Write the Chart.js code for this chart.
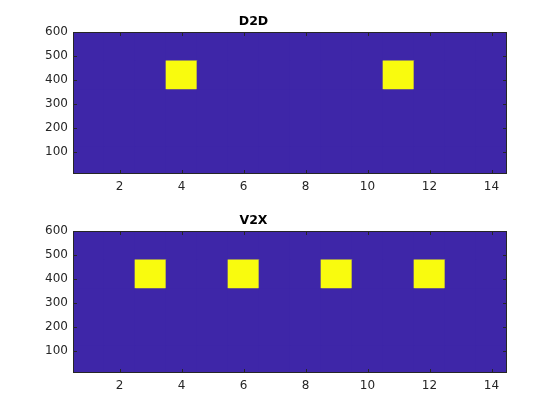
<!DOCTYPE html>
<html>
<head>
<meta charset="utf-8">
<script src="https://cdn.jsdelivr.net/npm/chart.js@4"></script>
<style>
  body { margin: 0; background: #fff; width: 560px; height: 420px; overflow: hidden; }
  canvas { position: absolute; left: 0; }
  #d2d { top: 0; }
  #v2x { top: 199px; }
</style>
</head>
<body>
<canvas id="d2d" width="560" height="200"></canvas>
<canvas id="v2x" width="560" height="200"></canvas>
<script>
// kolom 1..14, baris (batas y) 5 baris
const columns = [1, 2, 3, 4, 5, 6, 7, 8, 9, 10, 11, 12, 13, 14];
const rowEdges = [0, 120, 240, 360, 480, 600];
const xTickValues = [2, 4, 6, 8, 10, 12, 14];
const yTickValues = [100, 200, 300, 400, 500, 600];

// nilai sel, baris dari bawah ke atas
const d2dCells = [
  [0, 0, 0, 0, 0, 0, 0, 0, 0, 0, 0, 0, 0, 0],
  [0, 0, 0, 0, 0, 0, 0, 0, 0, 0, 0, 0, 0, 0],
  [0, 0, 0, 0, 0, 0, 0, 0, 0, 0, 0, 0, 0, 0],
  [0, 0, 0, 1, 0, 0, 0, 0, 0, 0, 1, 0, 0, 0],
  [0, 0, 0, 0, 0, 0, 0, 0, 0, 0, 0, 0, 0, 0]
];
const v2xCells = [
  [0, 0, 0, 0, 0, 0, 0, 0, 0, 0, 0, 0, 0, 0],
  [0, 0, 0, 0, 0, 0, 0, 0, 0, 0, 0, 0, 0, 0],
  [0, 0, 0, 0, 0, 0, 0, 0, 0, 0, 0, 0, 0, 0],
  [0, 0, 1, 0, 0, 1, 0, 0, 1, 0, 0, 1, 0, 0],
  [0, 0, 0, 0, 0, 0, 0, 0, 0, 0, 0, 0, 0, 0]
];

const lowColor = "#3e26a8";
const highColor = "#f9fb0e";
const axisColor = "#262626";

// kotak sumbu + tick ke dalam ala MATLAB
const boxPlugin = {
  id: "box",
  beforeDatasetsDraw(chart) {
    const a = chart.chartArea, ctx = chart.ctx;
    ctx.save();
    ctx.fillStyle = lowColor;
    ctx.fillRect(a.left, a.top, a.right - a.left, a.bottom - a.top);
    ctx.restore();
  },
  afterDraw(chart) {
    const a = chart.chartArea, ctx = chart.ctx;
    const len = 4;
    ctx.save();
    ctx.strokeStyle = axisColor;
    ctx.lineWidth = 1;
    ctx.beginPath();
    chart.scales.x.ticks.forEach(t => {
      const px = Math.round(chart.scales.x.getPixelForValue(t.value)) + 0.5;
      ctx.moveTo(px, a.bottom); ctx.lineTo(px, a.bottom - len);
      ctx.moveTo(px, a.top); ctx.lineTo(px, a.top + len);
    });
    chart.scales.y.ticks.forEach(t => {
      const py = Math.round(chart.scales.y.getPixelForValue(t.value)) + 0.5;
      ctx.moveTo(a.left, py); ctx.lineTo(a.left + len, py);
      ctx.moveTo(a.right, py); ctx.lineTo(a.right - len, py);
    });
    ctx.stroke();
    ctx.strokeRect(Math.round(a.left) + 0.5, Math.round(a.top) + 0.5,
      Math.round(a.right - a.left) - 1, Math.round(a.bottom - a.top) - 1);
    ctx.restore();
  }
};

function makeDatasets(cells) {
  return cells.map((row, r) => ({
    data: columns.map(c => ({ x: c, y: [rowEdges[r], rowEdges[r + 1]] })),
    backgroundColor: row.map(v => v ? highColor : lowColor),
    borderWidth: 0,
    barPercentage: 1,
    categoryPercentage: 1,
    grouped: false
  }));
}

function makeChart(id, title, cells) {
  return new Chart(document.getElementById(id), {
    type: "bar",
    data: { datasets: makeDatasets(cells) },
    options: {
      responsive: false,
      animation: false,
      devicePixelRatio: 1,
      layout: { padding: { left: 0, right: 53, top: 0, bottom: 0 } },
      plugins: {
        legend: { display: false },
        tooltip: { enabled: false },
        title: {
          display: true,
          text: title,
          color: "#000",
          font: { family: "DejaVu Sans", size: 12.5, weight: "bold" },
          padding: { top: 14, bottom: 3 }
        }
      },
      scales: {
        x: {
          type: "linear",
          offset: false,
          min: 0.5,
          max: 14.5,
          afterBuildTicks: s => { s.ticks = xTickValues.map(v => ({ value: v })); },
          afterFit: s => { s.height = 26; },
          grid: { display: false, drawTicks: false },
          border: { display: false },
          ticks: { color: axisColor, padding: 6, font: { family: "DejaVu Sans", size: 12 } }
        },
        y: {
          type: "linear",
          min: 8,
          max: 600,
          afterBuildTicks: s => { s.ticks = yTickValues.map(v => ({ value: v })); },
          afterFit: s => { s.width = 73; },
          grid: { display: false, drawTicks: false },
          border: { display: false },
          ticks: { color: axisColor, padding: 5, font: { family: "DejaVu Sans", size: 12 } }
        }
      }
    },
    plugins: [boxPlugin]
  });
}

makeChart("d2d", "D2D", d2dCells);
makeChart("v2x", "V2X", v2xCells);
</script>
</body>
</html>
